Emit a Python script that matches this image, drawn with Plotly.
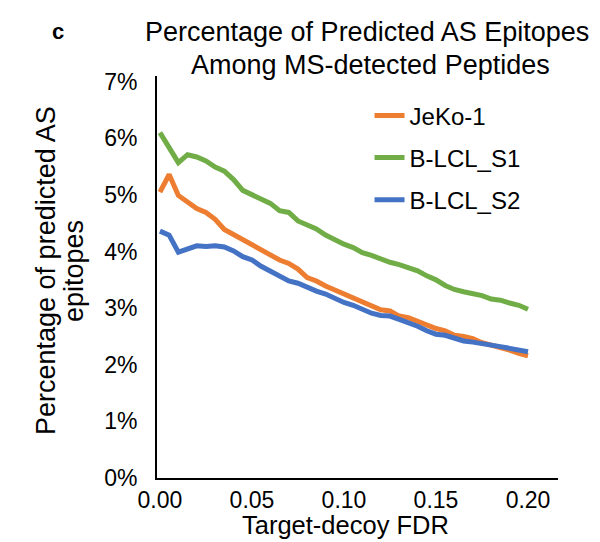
import plotly.graph_objects as go

fdr = [round(i * 0.005, 3) for i in range(41)]

jeko1 = [5.05, 5.36, 4.99, 4.87, 4.76, 4.69, 4.57, 4.39, 4.30, 4.22, 4.13, 4.03, 3.95, 3.85,
         3.79, 3.69, 3.54, 3.48, 3.39, 3.32, 3.25, 3.19, 3.13, 3.04, 2.97, 2.95, 2.86, 2.83,
         2.76, 2.69, 2.64, 2.60, 2.52, 2.50, 2.46, 2.39, 2.35, 2.31, 2.26, 2.20, 2.16]
blcl_s1 = [6.10, 5.83, 5.57, 5.71, 5.67, 5.60, 5.49, 5.42, 5.27, 5.08, 5.01, 4.92, 4.85, 4.72,
           4.69, 4.54, 4.47, 4.40, 4.29, 4.20, 4.13, 4.07, 3.98, 3.93, 3.86, 3.81, 3.77, 3.72,
           3.66, 3.57, 3.50, 3.40, 3.33, 3.29, 3.26, 3.22, 3.16, 3.14, 3.09, 3.05, 2.98]
blcl_s2 = [4.36, 4.29, 3.99, 4.04, 4.10, 4.09, 4.10, 4.08, 4.01, 3.91, 3.85, 3.74, 3.66, 3.56,
           3.48, 3.44, 3.36, 3.30, 3.25, 3.17, 3.10, 3.05, 2.97, 2.91, 2.87, 2.86, 2.80, 2.75,
           2.68, 2.60, 2.54, 2.52, 2.46, 2.42, 2.40, 2.38, 2.36, 2.32, 2.29, 2.26, 2.23]

series_names = ["JeKo-1", "B-LCL_S1", "B-LCL_S2"]
series_colors = ["#ED7D31", "#70AD47", "#4472C4"]
x_ticks = [0.0, 0.05, 0.10, 0.15, 0.20]
x_tick_labels = ["0.00", "0.05", "0.10", "0.15", "0.20"]
y_ticks = [0, 1, 2, 3, 4, 5, 6, 7]
y_tick_labels = ["0%", "1%", "2%", "3%", "4%", "5%", "6%", "7%"]

FONT = "Liberation Sans, Arial, Helvetica, sans-serif"
W, H = 600, 542
L, R, T, B = 149, 50, 68, 72

fig = go.Figure()
for name, vals, col in zip(series_names, [jeko1, blcl_s1, blcl_s2], series_colors):
    fig.add_trace(go.Scatter(x=fdr, y=vals, mode="lines", name=name, legendgroup=name,
                             line=dict(color=col, width=5)))

fig.update_layout(
    width=W, height=H,
    margin=dict(l=L, r=R, t=T, b=B),
    paper_bgcolor="white", plot_bgcolor="white",
    font=dict(family=FONT, color="black", size=23),
    showlegend=True,
    legend=dict(x=0.53, y=0.957, xanchor="left", yanchor="top",
                font=dict(size=24, family=FONT), bgcolor="rgba(0,0,0,0)",
                itemwidth=30, tracegroupgap=8),
    xaxis=dict(range=[-0.0016, 0.2163], tickvals=x_ticks, ticktext=x_tick_labels,
               showgrid=False, zeroline=False, showline=True, linecolor="black", linewidth=2,
               ticks="", tickfont=dict(size=23), ticklabelstandoff=0),
    yaxis=dict(range=[0, 7.1], tickvals=y_ticks, ticktext=y_tick_labels,
               showgrid=False, zeroline=False, showline=True, linecolor="black", linewidth=2,
               ticks="", tickfont=dict(size=23), ticklabelstandoff=13),
)

def px_ann(text, x, y, size, bold=False, angle=0):
    fig.add_annotation(text=f"<b>{text}</b>" if bold else text,
                       xref="paper", yref="paper",
                       x=(x - L) / (W - L - R), y=(H - B - y) / (H - T - B),
                       xanchor="center", yanchor="middle", showarrow=False,
                       textangle=angle, font=dict(size=size, family=FONT, color="black"))

# title lines
px_ann("Percentage of Predicted AS Epitopes", 359, 24, 27)
px_ann("Among MS-detected Peptides", 362, 57, 27)
# panel letter
px_ann("c", 50, 23, 22, bold=True)
# axis titles
px_ann("Target-decoy FDR", 337, 517, 25.5)
px_ann("Percentage of predicted AS", 38, 263, 27, angle=-90)
px_ann("epitopes", 66, 263, 27, angle=-90)

fig.write_html("out.html")
